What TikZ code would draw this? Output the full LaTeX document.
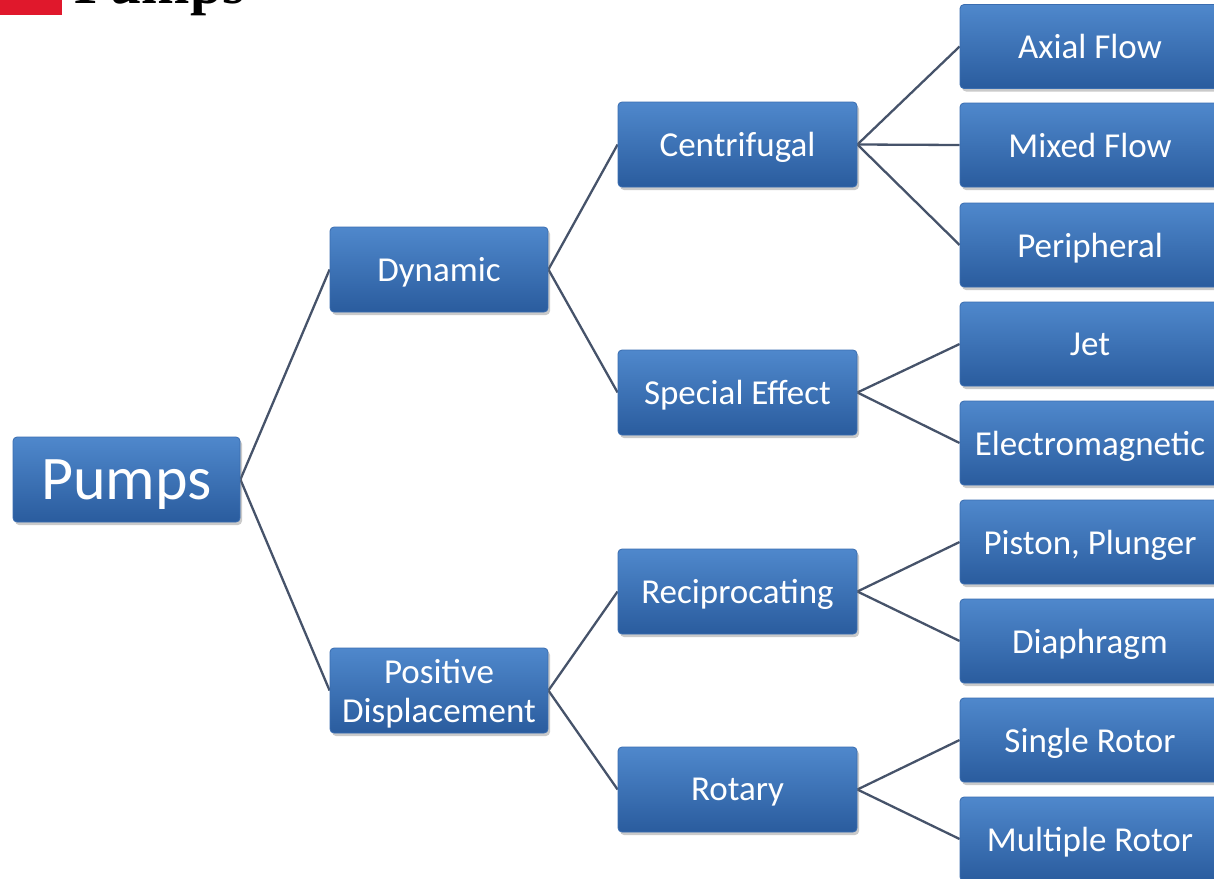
\documentclass[tikz,border=0pt]{standalone}
\usepackage{fontspec}
\setmainfont{Carlito}
\newfontfamily\titlefont{Liberation Serif}
\usetikzlibrary{shadows,backgrounds}
\definecolor{boxtop}{HTML}{4F88CC}
\definecolor{boxbot}{HTML}{2A5C9E}
\definecolor{boxedge}{HTML}{3A6DB0}
\definecolor{linkcol}{HTML}{46536A}
\definecolor{titlered}{HTML}{E0182C}
\tikzset{
  box/.style={rectangle, rounded corners=4pt, top color=boxtop, bottom color=boxbot,
    draw=boxedge, line width=0.8pt, text=white, align=center, inner sep=0pt,
    minimum height=85pt, font=\fontsize{35}{39}\selectfont, text depth=0pt,
    drop shadow={shadow xshift=2pt, shadow yshift=-3pt, opacity=0.35, fill=black!60}},
  leafbox/.style={box, minimum width=260pt, minimum height=84pt},
  midbox/.style={box, minimum width=239pt},
  lvlbox/.style={box, minimum width=218pt},
  link/.style={draw=linkcol, line width=2.3pt}
}
\begin{document}
\begin{tikzpicture}[x=1pt,y=-1pt]
\useasboundingbox (0,0) rectangle (1214,878);
\begin{scope}
\clip (0,0) rectangle (1214,878);
% cut-off title
\fill[titlered] (0,-10) rectangle (62,15);
\node[anchor=base west, inner sep=0pt, font=\titlefont\bfseries\fontsize{58}{58}\selectfont] (title) at (74,3) {Pumps};
% nodes
\node[box, minimum width=227pt, font=\fontsize{62}{62}\selectfont] (pumps) at (126.5,479.5) {Pumps};
\node[lvlbox] (dyn) at (439,269.5) {Dynamic};
\node[lvlbox] (pos) at (439,690.5) {Positive\\Displacement};
\node[midbox] (cen) at (737.5,144.5) {Centrifugal};
\node[midbox] (spe) at (737.5,392.5) {Special Effect};
\node[midbox] (rec) at (737.5,591.5) {Reciprocating};
\node[midbox] (rot) at (737.5,789.5) {Rotary};
\node[leafbox] (axi) at (1090,46.5) {Axial Flow};
\node[leafbox] (mix) at (1090,145) {Mixed Flow};
\node[leafbox] (per) at (1090,245) {Peripheral};
\node[leafbox] (jet) at (1090,344) {Jet};
\node[leafbox] (ele) at (1090,443) {Electromagnetic};
\node[leafbox] (pis) at (1090,542) {Piston, Plunger};
\node[leafbox] (dia) at (1090,641) {Diaphragm};
\node[leafbox] (sin) at (1090,740) {Single Rotor};
\node[leafbox] (mul) at (1090,839) {Multiple Rotor};
\begin{scope}[on background layer]
\draw[link] (pumps.east) -- (dyn.west);
\draw[link] (pumps.east) -- (pos.west);
\draw[link] (dyn.east) -- (cen.west);
\draw[link] (dyn.east) -- (spe.west);
\draw[link] (pos.east) -- (rec.west);
\draw[link] (pos.east) -- (rot.west);
\draw[link] (cen.east) -- (axi.west);
\draw[link] (cen.east) -- (mix.west);
\draw[link] (cen.east) -- (per.west);
\draw[link] (spe.east) -- (jet.west);
\draw[link] (spe.east) -- (ele.west);
\draw[link] (rec.east) -- (pis.west);
\draw[link] (rec.east) -- (dia.west);
\draw[link] (rot.east) -- (sin.west);
\draw[link] (rot.east) -- (mul.west);
\end{scope}
\end{scope}
\end{tikzpicture}
\end{document}
